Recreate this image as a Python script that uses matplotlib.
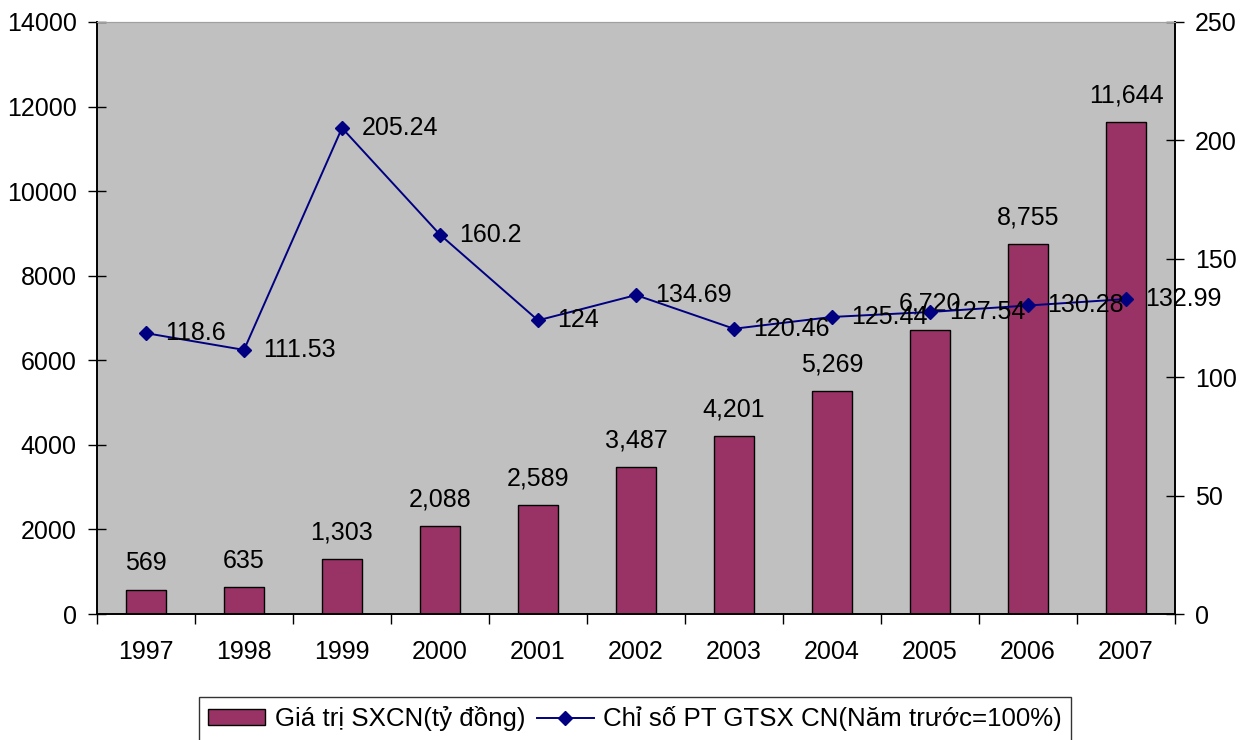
import matplotlib.pyplot as plt
import numpy as np
from matplotlib.ticker import MultipleLocator, FixedLocator

plt.rcParams['font.family'] = ['Liberation Sans', 'DejaVu Sans']

years = ["1997", "1998", "1999", "2000", "2001", "2002", "2003", "2004", "2005", "2006", "2007"]
gia_tri = [569, 635, 1303, 2088, 2589, 3487, 4201, 5269, 6720, 8755, 11644]
chi_so = [118.6, 111.53, 205.24, 160.2, 124, 134.69, 120.46, 125.44, 127.54, 130.28, 132.99]

bar_label = "Giá trị SXCN(tỷ đồng)"
line_label = "Chỉ số PT GTSX CN(Năm trước=100%)"

FS = 18

fig = plt.figure(figsize=(12.53, 7.40), dpi=100)
ax = fig.add_axes([97 / 1253, 1 - 614 / 740, (1175 - 97) / 1253, (614 - 22) / 740])
ax2 = ax.twinx()

x = np.arange(len(years))
ax.set_facecolor("#c0c0c0")
bars = ax.bar(x, gia_tri, width=0.41, color="#993366", edgecolor="black",
              linewidth=1.0, label=bar_label, zorder=2)
for xi, v in zip(x, gia_tri):
    ax.annotate(f"{v:,}", (xi, v), xytext=(0, 14), textcoords="offset points",
                ha="center", va="baseline", fontsize=FS)

line, = ax2.plot(x, chi_so, color="#000080", marker="D", markersize=7.5,
                 linewidth=1.4, label=line_label, zorder=3)
for xi, v in zip(x, chi_so):
    ax2.annotate(f"{v:g}", (xi, v), xytext=(14, 0), textcoords="offset points",
                 ha="left", va="center", fontsize=FS, zorder=4)

ax.set_xlim(-0.5, len(years) - 0.5)
ax.set_ylim(0, 14000)
ax2.set_ylim(0, 250)
ax.yaxis.set_major_locator(MultipleLocator(2000))
ax2.yaxis.set_major_locator(MultipleLocator(50))

ax.set_xticks(x)
ax.set_xticklabels(years)
ax.xaxis.set_minor_locator(FixedLocator(np.arange(-0.5, len(years), 1.0)))
ax.tick_params(axis="x", which="major", length=0, pad=19, labelsize=FS)
ax.tick_params(axis="x", which="minor", length=7, width=1, direction="out")
ax.tick_params(axis="y", direction="inout", length=13, width=1, labelsize=FS, pad=8)
ax2.tick_params(axis="y", direction="inout", length=13, width=1, labelsize=FS, pad=8)

for a in (ax, ax2):
    a.spines["top"].set_color("#a0a0a0")
    a.spines["left"].set_linewidth(1.2)
    a.spines["right"].set_linewidth(1.2)
    a.spines["bottom"].set_linewidth(1.2)

leg = fig.legend([bars, line], [bar_label, line_label], loc="upper center",
                 bbox_to_anchor=(635 / 1253, 1 - 697 / 740), ncol=2,
                 frameon=True, fancybox=False, edgecolor="black", fontsize=18.6,
                 handlelength=2.2, handleheight=0.6, handletextpad=0.36,
                 columnspacing=0.45, borderpad=0.36, borderaxespad=0)
leg.get_frame().set_linewidth(1.0)

fig.savefig("out.png", dpi=100)
